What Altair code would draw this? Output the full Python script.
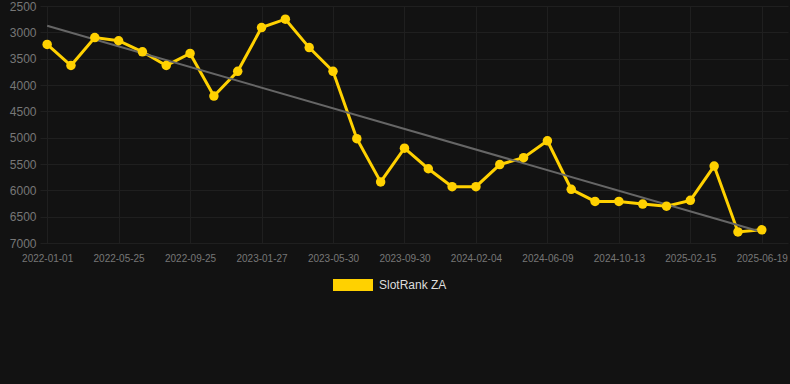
import altair as alt
import pandas as pd
import json

# --- data -------------------------------------------------------------
tick_labels = ["2022-01-01", "2022-05-25", "2022-09-25", "2023-01-27", "2023-05-30",
               "2023-09-30", "2024-02-04", "2024-06-09", "2024-10-13", "2025-02-15",
               "2025-06-19"]
series_name = "SlotRank ZA"
rank_values = [3230, 3630, 3100, 3160, 3370, 3630, 3400, 4210, 3740, 2910,
               2750, 3290, 3740, 5020, 5840, 5200, 5590, 5930, 5930, 5510,
               5380, 5060, 5980, 6210, 6210, 6260, 6300, 6190, 5540, 6790,
               6750]
y_ticks = [2500, 3000, 3500, 4000, 4500, 5000, 5500, 6000, 6500, 7000]

df = pd.DataFrame({
    "idx": list(range(len(rank_values))),
    "rank": rank_values,
    "series": [series_name] * len(rank_values),
})

GOLD = "#FFD100"
GRID = "#1f1f1f"
label_expr = json.dumps(tick_labels) + "[round(datum.value / 3)]"

x_enc = alt.X("idx:Q",
              scale=alt.Scale(domain=[-0.3, 31.1], nice=False, zero=False),
              axis=alt.Axis(values=list(range(0, 31, 3)), labelExpr=label_expr,
                            title=None, grid=True, ticks=False, domain=False,
                            labelFontSize=10, labelPadding=10, labelColor="#777777",
                            gridColor=GRID, labelFont="Liberation Sans",
                            labelOverlap=False))
y_enc = alt.Y("rank:Q",
              scale=alt.Scale(domain=[2500, 7000], reverse=True, nice=False, zero=False),
              axis=alt.Axis(values=y_ticks, format="d", title=None, grid=True,
                            ticks=False, domain=False, labelFontSize=12, labelPadding=4,
                            labelColor="#777777", gridColor=GRID,
                            labelFont="Liberation Sans", labelOverlap=False))

color_enc = alt.Color("series:N",
                      scale=alt.Scale(range=[GOLD]),
                      legend=alt.Legend(title=None, orient="none", legendX=293, legendY=259,
                                        symbolType="M-1,-0.3H1V0.3H-1Z", symbolSize=1600,
                                        symbolStrokeWidth=0, symbolFillColor=GOLD,
                                        labelColor="#DDDDDD", labelFontSize=12,
                                        labelFont="Liberation Sans", padding=0,
                                        labelOffset=6))

base = alt.Chart(df)

trend = base.transform_regression("idx", "rank", extent=[0, 30]).mark_line(
    color="#666666", strokeWidth=2
).encode(x=x_enc, y=y_enc)

line = base.mark_line(strokeWidth=3).encode(x=x_enc, y=y_enc, color=color_enc)
points = base.mark_circle(size=90, opacity=1).encode(x=x_enc, y=y_enc, color=color_enc)

chart = alt.layer(line, trend, points).properties(
    width=748, height=237,
    padding={"left": 40, "top": 6, "right": 2, "bottom": 141},
    background="#121212",
    autosize=alt.AutoSizeParams(type="none"),
).configure_view(stroke=None)

chart.save("out.html", embed_options={"renderer": "svg", "actions": False})
